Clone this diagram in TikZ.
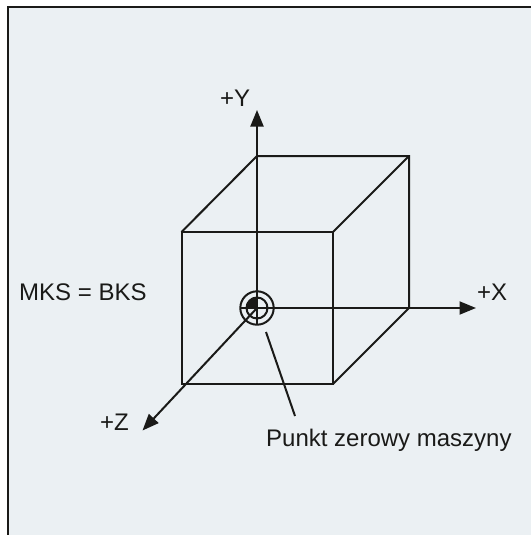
\documentclass[tikz,border=0pt]{standalone}
\usepackage{fontspec}
\setmainfont{Liberation Sans}
\usetikzlibrary{arrows.meta}
\definecolor{panel}{HTML}{EBF0F3}
\definecolor{ink}{HTML}{1A1A18}
\tikzset{
  line/.style={draw=ink,line width=2pt},
  axis/.style={line,-{Triangle[length=16.5pt,width=13pt]}},
  lbl/.style={text=ink,font=\fontsize{24}{28}\selectfont,inner sep=0pt,anchor=base west},
}
\begin{document}
\begin{tikzpicture}[x=1pt,y=-1pt]
\useasboundingbox (0,0) rectangle (531,535);
\fill[panel] (8,7) rectangle (531,535);
\draw[draw=ink,line width=2.2pt] (8,535) -- (8,7) -- (531,7);
% cube
\draw[line] (181.5,232) rectangle (333,384);
\draw[line] (181.5,232) -- (257,156) -- (409,156) -- (409,308) -- (333,384);
\draw[line] (333,232) -- (409,156);
% origin
\coordinate (o) at (257,308);
\coordinate (ytip) at (257,110);
\coordinate (xtip) at (476,308);
\coordinate (ztip) at (142.5,430.5);
\coordinate (lead) at (266,332);
\coordinate (leadend) at (295,416);
\fill[ink] (o) -- (246.5,308) arc[start angle=180,end angle=270,radius=10.5] -- cycle;
\draw[axis] (o) -- (ytip);
\draw[axis] (o) -- (xtip);
\draw[axis] (o) -- (ztip);
\draw[line] (240,308) -- (o);
\draw[line] (o) -- (257,324.5);
\draw[line] (o) circle[radius=10.5];
\draw[line] (o) circle[radius=16.7];
\draw[line] (lead) -- (leadend);
% labels
\node[lbl] (ly) at (220,106.5) {+Y};
\node[lbl] (lx) at (477,300) {+X};
\node[lbl] (lz) at (100,430.5) {+Z};
\node[lbl] (lm) at (19,300) {MKS = BKS};
\node[lbl] (lp) at (266,446) {Punkt zerowy maszyny};
\end{tikzpicture}
\end{document}
